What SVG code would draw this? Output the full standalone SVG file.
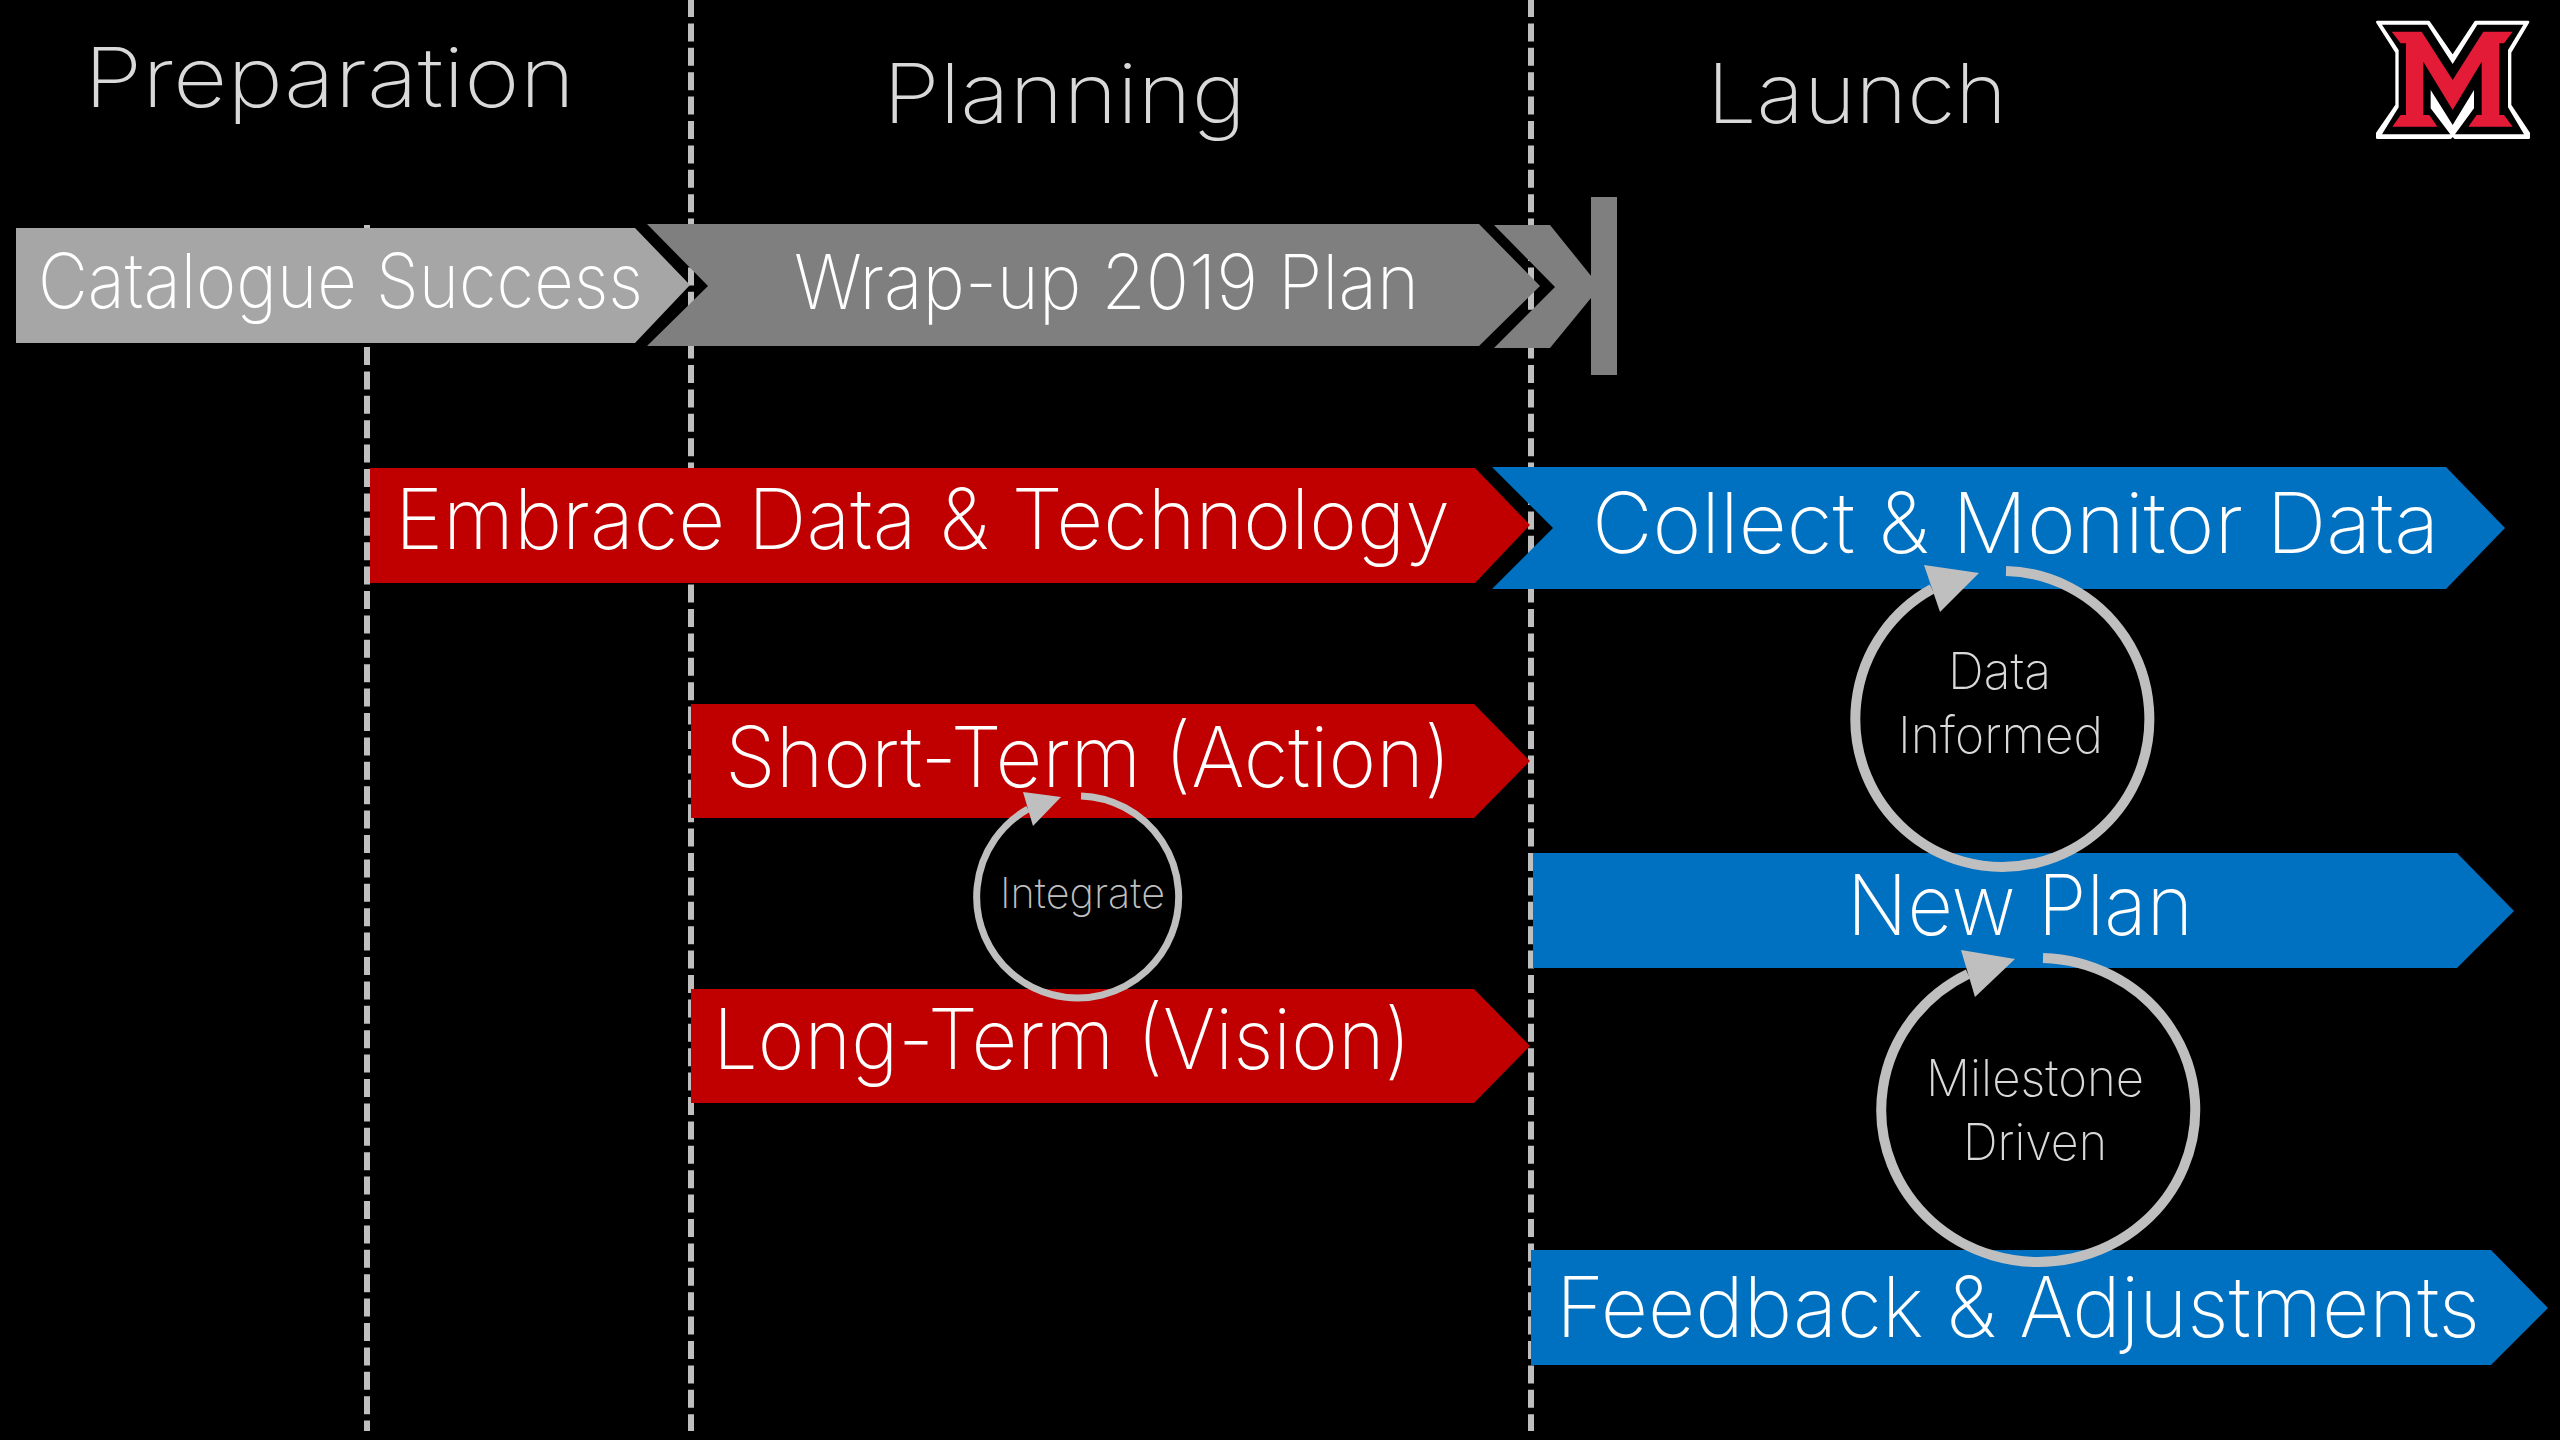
<svg xmlns="http://www.w3.org/2000/svg" width="2560" height="1440" viewBox="0 0 2560 1440">
<style>
text{font-family:"Inter","Noto Sans","Liberation Sans",sans-serif;font-weight:200}
.head{font-size:83px;fill:#d9d9d9}
.big{font-size:84px;fill:#fff}
.mid{font-size:76px;fill:#fff}
.loop{font-size:51px;fill:#d9d9d9;font-weight:200}
.div{stroke:#bfbfbf;stroke-width:6;stroke-dasharray:18 6.4;fill:none}
.arc{stroke:#bfbfbf;fill:none}
.head2{fill:#bfbfbf}
.red{fill:#c00000}.blue{fill:#0070c0}
</style>
<rect width="2560" height="1440" fill="#000"/>
<g id="dividers">
<line class="div" x1="367" y1="225" x2="367" y2="1431"/>
<line class="div" x1="691" y1="-1" x2="691" y2="1431"/>
<line class="div" x1="1531" y1="-1" x2="1531" y2="1431"/>
</g>
<g id="heading-preparation"><text class="head" x="84" y="107" textLength="491" lengthAdjust="spacingAndGlyphs">Preparation</text></g>
<g id="heading-planning"><text class="head" x="883" y="123" textLength="363" lengthAdjust="spacingAndGlyphs">Planning</text></g>
<g id="heading-launch"><text class="head" x="1707" y="123" textLength="300" lengthAdjust="spacingAndGlyphs">Launch</text></g>
<g id="catalogue-success">
<polygon fill="#a6a6a6" points="16,228 635,228 690,285 635,343 16,343"/>
<text class="mid" x="38" y="308" textLength="605" lengthAdjust="spacingAndGlyphs">Catalogue Success</text>
</g>
<g id="wrap-up">
<polygon fill="#7f7f7f" points="647,224 1479,224 1540,286 1479,346 647,346 708,286"/>
<text class="mid" x="794" y="309" textLength="625" lengthAdjust="spacingAndGlyphs">Wrap-up 2019 Plan</text>
</g>
<g id="launch-marker">
<polygon fill="#7f7f7f" points="1494,225 1550,225 1600,287 1550,348 1494,348 1555,287"/>
<rect fill="#7f7f7f" x="1591" y="197" width="26" height="178"/>
</g>
<g id="embrace">
<polygon class="red" points="370,468 1475,468 1530,525 1475,583 370,583"/>
<text class="big" x="395" y="549" textLength="1055" lengthAdjust="spacingAndGlyphs">Embrace Data &amp; Technology</text>
</g>
<g id="collect">
<polygon class="blue" points="1492,467 2446,467 2505,528 2446,589 1492,589 1553,528"/>
<text class="big" x="1592" y="553" textLength="847" lengthAdjust="spacingAndGlyphs">Collect &amp; Monitor Data</text>
</g>
<g id="short-term">
<polygon class="red" points="691,704 1474,704 1530,761 1474,818 691,818"/>
<text class="big" x="725" y="787" textLength="726" lengthAdjust="spacingAndGlyphs">Short-Term (Action)</text>
</g>
<g id="long-term">
<polygon class="red" points="691,989 1474,989 1530,1046 1474,1103 691,1103"/>
<text class="big" x="713" y="1069" textLength="698" lengthAdjust="spacingAndGlyphs">Long-Term (Vision)</text>
</g>
<g id="new-plan">
<polygon class="blue" points="1533,853 2457,853 2514,911 2457,968 1533,968"/>
<text class="big" x="1847" y="935" textLength="346" lengthAdjust="spacingAndGlyphs">New Plan</text>
</g>
<g id="feedback">
<polygon class="blue" points="1531,1250 2491,1250 2548,1308 2491,1365 1531,1365"/>
<text class="big" x="1556" y="1337" textLength="924" lengthAdjust="spacingAndGlyphs">Feedback &amp; Adjustments</text>
</g>
<g id="connectors">
<path class="arc" stroke-width="7" d="M1081 796 A101 101 0 1 1 1028 809"/>
<polygon fill="#bfbfbf" points="1061,797 1023,792 1033,826"/>
<path class="arc" stroke-width="10" d="M2006 571 A147 148 0 1 1 1932 589"/>
<polygon fill="#bfbfbf" points="1979,573 1924,565 1940,612"/>
<path class="arc" stroke-width="10" d="M2043 958 A157 152 0 1 1 1968 974"/>
<polygon fill="#bfbfbf" points="2015,959 1961,950 1975,997"/>
</g>
<g id="integrate-label"><text class="loop" style="font-size:42px;fill:#bfbfbf" x="1000" y="908" textLength="165" lengthAdjust="spacingAndGlyphs">Integrate</text></g>
<g id="data-informed-label">
<text class="loop" x="1948" y="689" textLength="103" lengthAdjust="spacingAndGlyphs">Data</text>
<text class="loop" x="1898" y="753" textLength="205" lengthAdjust="spacingAndGlyphs">Informed</text>
</g>
<g id="milestone-driven-label">
<text class="loop" x="1926" y="1096" textLength="218" lengthAdjust="spacingAndGlyphs">Milestone</text>
<text class="loop" x="1963" y="1160" textLength="144" lengthAdjust="spacingAndGlyphs">Driven</text>
</g>
<g id="logo" transform="translate(2340 0) scale(.33333)">
<polygon fill="#fff" stroke="#fff" stroke-width="8" stroke-linejoin="round" points="112,66 266,66 338,170 407,66 564,66 510,157 510,316 566,400 566,413 345,413 338,405 331,413 112,413 112,400 170,316 170,157"/>
<polygon fill="#000" points="126,74 262,74 338,192 412,74 550,74 504,150 504,322 552,403 345,403 338,393 331,403 126,403 176,322 176,150"/>
<polygon fill="#fff" points="272,270 338,375 402,270 402,325 345,403 331,403 272,325"/>
<polygon fill="#e31b37" points="155,95 245,95 338,240 430,95 518,95 492,130 478,130 478,345 492,345 518,380 385,380 410,345 425,345 425,185 338,330 250,185 250,345 268,345 292,380 157,380 182,345 198,345 198,130 182,130"/>
</g>
</svg>
